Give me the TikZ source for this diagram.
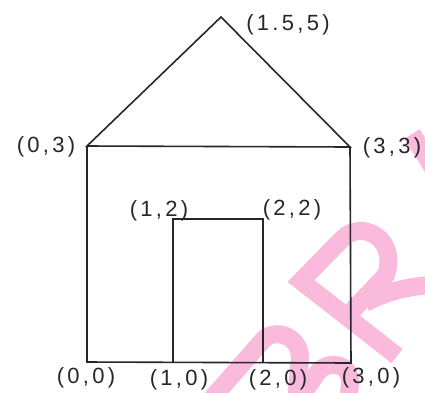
\documentclass[tikz,border=0pt]{standalone}
\usepackage{fontspec}
\newfontfamily\lblfont{Liberation Sans}[LetterSpace=15]
\definecolor{wm}{RGB}{249,186,220}
\definecolor{ink}{RGB}{38,38,44}
\begin{document}
\begin{tikzpicture}[x=1pt,y=-1pt,
  wall/.style={draw=ink, line width=1.6pt, line join=miter},
  lbl/.style={text=ink, font=\lblfont\fontsize{22}{22}\selectfont, inner sep=0pt},
  wmark/.style={draw=wm, line width=18pt, line join=miter}]
\useasboundingbox (0,0) rectangle (425,392);
\clip (0,0) rectangle (425,392);
% watermark letters (drawn beneath)
\draw[wmark] (397,356) -- (301,281) -- (343,238)
   .. controls (362,220) and (398,238) .. (386,275) -- (350,313);
\draw[wmark] (365,303) .. controls (380,295) and (400,287) .. (432,285);
\draw[wmark] (412,134) -- (445,187);
\draw[wmark] (200,412) -- (263,340) .. controls (274,328) and (300,335) .. (300,358) -- (296,400);
\draw[wmark] (270,440) -- (318,372) .. controls (328,360) and (352,362) .. (350,385) -- (348,400);
% house
\coordinate (A) at (221,17);
\coordinate (L3) at (87,146);
\coordinate (R3) at (350,147);
\coordinate (L0) at (87,362);
\coordinate (R0) at (351,363);
\coordinate (D1) at (173,363);
\coordinate (D1t) at (173,219);
\coordinate (D2t) at (263,219);
\coordinate (D2) at (263,363);
\draw[wall] (L3) -- (A) -- (R3) -- cycle;
\draw[wall] (L3) -- (L0) -- (R0) -- (R3);
\draw[wall] (D1) -- (D1t) -- (D2t) -- (D2);
% labels
\node[lbl] (tA) at (288,25) {(1.5,5)};
\node[lbl] (tL3) at (46,147) {(0,3)};
\node[lbl] (tR3) at (392,148) {(3,3)};
\node[lbl] (tD1t) at (159,211) {(1,2)};
\node[lbl] (tD2t) at (292,210) {(2,2)};
\node[lbl] (tL0) at (86,378) {(0,0)};
\node[lbl] (tD1) at (179,380) {(1,0)};
\node[lbl] (tD2) at (278,380) {(2,0)};
\node[lbl] (tR0) at (371,378) {(3,0)};
\end{tikzpicture}
\end{document}
